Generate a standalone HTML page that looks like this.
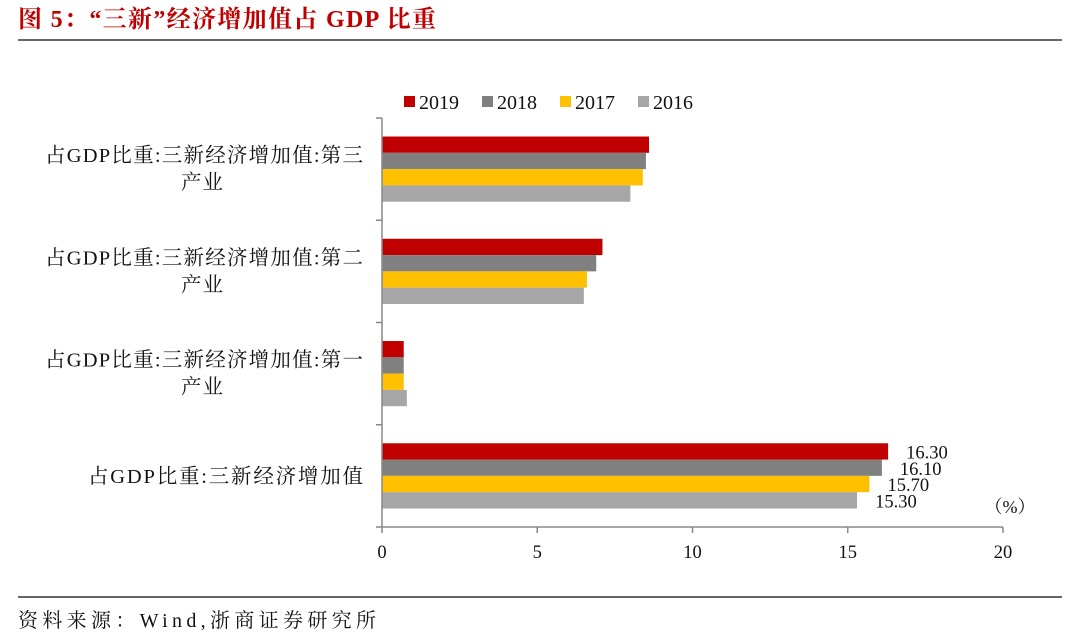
<!DOCTYPE html>
<html><head><meta charset="utf-8"><style>
body{margin:0;background:#fff;width:1080px;height:636px;overflow:hidden;font-family:"Liberation Serif","Noto Serif CJK SC",serif;}
</style></head><body>
<svg width="1080" height="636" xmlns="http://www.w3.org/2000/svg">
<text x="18" y="27" font-size="24" font-weight="bold" fill="#c00000" textLength="418" lengthAdjust="spacing" font-family="Liberation Serif, Noto Serif CJK SC, serif">图 5：“三新”经济增加值占 GDP 比重</text>
<line x1="18" y1="40" x2="1062" y2="40" stroke="#333" stroke-width="1.5"/>
<line x1="18" y1="597" x2="1062" y2="597" stroke="#333" stroke-width="1.5"/>
<text x="18" y="627" font-size="20" fill="#111" textLength="358" lengthAdjust="spacing">资料来源：Wind,浙商证券研究所</text>
<g id="legend"></g>
<g id="plot"></g>
</svg>
<script>
const categories=["占GDP比重:三新经济增加值:第三|产业","占GDP比重:三新经济增加值:第二|产业","占GDP比重:三新经济增加值:第一|产业","占GDP比重:三新经济增加值"];
const seriesNames=["2019","2018","2017","2016"];
const v2019=[8.6,7.1,0.7,16.3];
const v2018=[8.5,6.9,0.7,16.1];
const v2017=[8.4,6.6,0.7,15.7];
const v2016=[8.0,6.5,0.8,15.3];
const xTicks=[0,5,10,15,20];
const labelsLast=["16.30","16.10","15.70","15.30"];
const colors=["#c00000","#808080","#ffc000","#a6a6a6"];
const series=[v2019,v2018,v2017,v2016];
const NS="http://www.w3.org/2000/svg";
const X0=382,X1=1003,Y0=118,Y1=527;
const xs=v=>X0+(v-0)/(20-0)*(X1-X0);
const band=(Y1-Y0)/categories.length;
const bh=16.3;
const plot=document.getElementById('plot');
function mk(t,a,p){const e=document.createElementNS(NS,t);for(const k in a)e.setAttribute(k,a[k]);(p||plot).appendChild(e);return e;}
categories.forEach((c,i)=>{
  const cy=Y0+band*(i+0.5);
  series.forEach((s,j)=>{
    const y=cy-2*bh+j*bh;
    const r=mk('rect',{x:X0,y:y,width:xs(s[i])-X0,height:bh,fill:colors[j]});
    
    
    if(i===categories.length-1){
      const t=mk('text',{x:xs(s[i])+18,y:y+bh-1,'font-size':18.5,fill:'#111'});
      t.textContent=labelsLast[j];
      
      
    }
  });
  const parts=c.split('|');
  if(parts.length===2){
    const t1=mk('text',{x:45,y:cy-7,'font-size':20.5,fill:'#111',textLength:318,lengthAdjust:'spacing'});t1.textContent=parts[0];
    
    const t2=mk('text',{x:181,y:cy+20,'font-size':20.5,fill:'#111',textLength:42,lengthAdjust:'spacing'});t2.textContent=parts[1];
    
  }else{
    const t1=mk('text',{x:88,y:cy+7,'font-size':20.5,fill:'#111',textLength:275,lengthAdjust:'spacing'});t1.textContent=parts[0];
    
  }
});
for(let i=0;i<=categories.length;i++){const y=Y0+band*i;const l=mk('line',{x1:X0-6,y1:y,x2:X0,y2:y,stroke:'#888','stroke-width':1.5});}
const ya=mk('line',{x1:X0,y1:Y0,x2:X0,y2:Y1,stroke:'#888','stroke-width':1.5});
const xa=mk('line',{x1:X0,y1:Y1,x2:X1,y2:Y1,stroke:'#888','stroke-width':1.5});
xTicks.forEach(v=>{const l=mk('line',{x1:xs(v),y1:Y1,x2:xs(v),y2:Y1+6,stroke:'#888','stroke-width':1.5});
 const t=mk('text',{x:xs(v),y:Y1+31,'font-size':18.5,'text-anchor':'middle',fill:'#111'});t.textContent=v;});
const u=mk('text',{x:1010,y:513,'font-size':18,'text-anchor':'middle',fill:'#111'});u.textContent='（%）';
const lg=document.getElementById('legend');
const lx=[404,482,560,638];
seriesNames.forEach((n,j)=>{
  const r=mk('rect',{x:lx[j],y:96,width:11,height:11,fill:colors[j]},lg);
  
  const t=mk('text',{x:lx[j]+15,y:109,'font-size':20,fill:'#111'},lg);t.textContent=n;
  
});
</script>
</body></html>
